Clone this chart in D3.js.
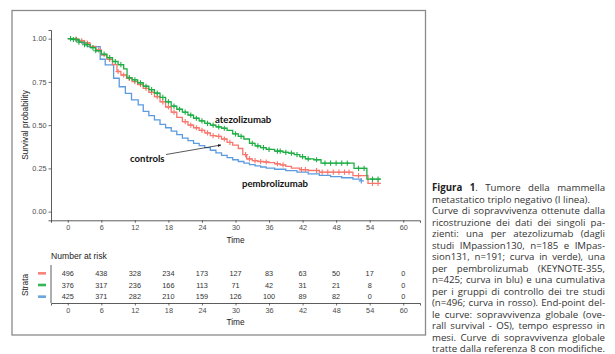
<!DOCTYPE html>
<html>
<head>
<meta charset="utf-8">
<script src="https://cdn.jsdelivr.net/npm/d3@7"></script>
<style>
  body { margin: 0; background: #fff; }
  svg { display: block; }
</style>
</head>
<body>
<div id="chart"></div>
<script>
// strata, top to bottom in the risk table
let strata = ['controls', 'atezolizumab', 'pembrolizumab']
let colors = ['#F8766D', '#1FAE45', '#5B9BE0']

// KM step points (time in months, survival)
let controlsTime = [0, 1, 2, 3, 4, 5, 6, 7, 8, 8.8, 9.5, 10.5, 11.5, 12.5, 13.5, 14.5, 15.5, 16.5, 17.5, 18.5, 19.5, 20.5, 21.5, 22.5, 23.5, 24.5, 25.5, 26.5, 27.5, 28.5, 29.5, 30.5, 31.3, 32, 33, 34, 35, 36, 37, 38, 39, 40, 41.5, 43, 45, 51, 53.7, 56]
let controlsSurv = [1, 0.997, 0.988, 0.975, 0.955, 0.935, 0.905, 0.88, 0.85, 0.81, 0.79, 0.77, 0.752, 0.735, 0.712, 0.69, 0.665, 0.635, 0.605, 0.575, 0.545, 0.52, 0.5, 0.485, 0.47, 0.455, 0.44, 0.435, 0.42, 0.4, 0.385, 0.365, 0.33, 0.305, 0.295, 0.29, 0.287, 0.283, 0.277, 0.27, 0.262, 0.252, 0.243, 0.238, 0.228, 0.208, 0.163, 0.163]
let controlsCensor = [1.5, 2.5, 3.5, 5.5, 7.5, 9, 10, 11, 12, 13, 14, 15, 16, 17, 18, 19, 21, 22, 23, 24, 25, 26, 27, 28, 29, 31.8, 32.5, 33.5, 34.5, 35.5, 37.5, 38.5, 41.8, 42.5, 44.5, 45.5, 46.5, 47.5, 48.5, 49.5, 50.3, 52, 54.5, 55.5]

let atezoTime = [0, 1, 2, 3, 4, 5, 6, 7, 8, 9, 10, 10.6, 11.5, 12.5, 13.5, 14.5, 15.5, 16.5, 17.5, 18.5, 19.5, 20.5, 21.5, 22.5, 23.5, 24.5, 25.5, 26.5, 27.5, 28.5, 29.5, 30.5, 31.5, 32.5, 33.5, 34.5, 35.5, 37, 38.5, 39.5, 40.5, 41.5, 42.5, 44, 45.3, 51.2, 53.5, 56]
let atezoSurv = [1, 0.995, 0.98, 0.965, 0.948, 0.93, 0.91, 0.89, 0.868, 0.85, 0.825, 0.775, 0.762, 0.745, 0.725, 0.705, 0.685, 0.66, 0.635, 0.61, 0.592, 0.575, 0.558, 0.54, 0.525, 0.51, 0.5, 0.49, 0.482, 0.47, 0.45, 0.435, 0.42, 0.395, 0.38, 0.37, 0.36, 0.35, 0.343, 0.338, 0.33, 0.318, 0.305, 0.3, 0.28, 0.25, 0.188, 0.188]
let atezoCensor = [0.5, 1, 1.5, 2, 3, 3.5, 4.5, 5, 6.5, 7.5, 8.5, 9.5, 11, 12, 13, 14, 15, 16, 17, 18, 19, 20, 21, 22, 23, 24, 25, 26, 27, 28, 30, 31, 33, 34, 35, 36, 37.5, 38, 39, 40, 41, 42, 43, 44.5, 46, 47, 48, 49, 50, 52, 53, 54.5, 55.5]

let pembroTime = [0, 1.5, 2.5, 3.5, 5.8, 6.7, 8.2, 9.2, 10.3, 11.4, 12.6, 13.5, 14.5, 15.5, 16.5, 17.5, 18.5, 19.5, 20.5, 21.5, 22.5, 23.5, 24.5, 25.5, 26.5, 27.5, 28.5, 29.5, 30.5, 31.5, 32.5, 33.5, 34.5, 35.5, 37, 39, 41, 43, 45, 47, 49, 51, 52.5]
let pembroSurv = [1, 0.99, 0.975, 0.954, 0.881, 0.848, 0.771, 0.722, 0.684, 0.646, 0.617, 0.58, 0.555, 0.53, 0.505, 0.485, 0.465, 0.445, 0.425, 0.41, 0.395, 0.382, 0.37, 0.355, 0.34, 0.325, 0.312, 0.3, 0.29, 0.28, 0.272, 0.265, 0.258, 0.252, 0.245, 0.237, 0.228, 0.218, 0.21, 0.203, 0.196, 0.188, 0.178]
let pembroCensor = [52.5]

let curves = [
  { time: controlsTime, surv: controlsSurv, censor: controlsCensor },
  { time: atezoTime, surv: atezoSurv, censor: atezoCensor },
  { time: pembroTime, surv: pembroSurv, censor: pembroCensor }
]

let xTicks = [0, 6, 12, 18, 24, 30, 36, 42, 48, 54, 60]
let yTicks = [0, 0.25, 0.5, 0.75, 1]

// number at risk at each x tick
let controlsRisk = [496, 438, 328, 234, 173, 127, 83, 63, 50, 17, 0]
let atezoRisk = [376, 317, 236, 166, 113, 71, 42, 31, 21, 8, 0]
let pembroRisk = [425, 371, 282, 210, 159, 126, 100, 89, 82, 0, 0]
let riskRows = [controlsRisk, atezoRisk, pembroRisk]

let captionLines = [
  'Figura 1. Tumore della mammella',
  'metastatico triplo negativo (I linea).',
  'Curve di sopravvivenza ottenute dalla',
  'ricostruzione dei dati dei singoli pa-',
  'zienti: una per atezolizumab (dagli',
  'studi IMpassion130, n=185 e IMpas-',
  'sion131, n=191; curva in verde), una',
  'per pembrolizumab (KEYNOTE-355,',
  'n=425; curva in blu) e una cumulativa',
  'per i gruppi di controllo dei tre studi',
  '(n=496; curva in rosso). End-point del-',
  'le curve: sopravvivenza globale (ove-',
  'rall survival - OS), tempo espresso in',
  'mesi. Curve di sopravvivenza globale',
  'tratte dalla referenza 8 con modifiche.'
]

let width = 615
let height = 354

let svg = d3
  .select('#chart')
  .append('svg')
  .attr('width', width)
  .attr('height', height)

let axisColor = '#333'
let font = 'Liberation Sans, Arial, sans-serif'

// frame round the figure
svg
  .append('rect')
  .attr('x', 12)
  .attr('y', 10.5)
  .attr('width', 413.5)
  .attr('height', 324.5)
  .attr('fill', 'none')
  .attr('stroke', '#8a8a8a')
  .attr('stroke-width', 1.3)

// ggplot style 5% expansion on both axes
let x = d3.scaleLinear().domain([-3, 63]).range([51, 420])
let y = d3.scaleLinear().domain([-0.05, 1.05]).range([220.3, 30])

let plot = svg.append('g')

let yAxis = plot
  .append('g')
  .attr('transform', 'translate(51,0)')
  .call(d3.axisLeft(y).tickValues(yTicks).tickFormat(d3.format('.2f')).tickSize(2.5).tickPadding(2))
let xAxis = plot
  .append('g')
  .attr('transform', 'translate(0,220.3)')
  .call(d3.axisBottom(x).tickValues(xTicks).tickSize(2.5).tickPadding(2.5))

function styleAxis(g) {
  g.select('.domain').attr('stroke', axisColor).attr('stroke-width', 0.8)
  g.selectAll('.tick line').attr('stroke', axisColor).attr('stroke-width', 0.7)
  g.selectAll('.tick text')
    .attr('fill', '#4d4d4d')
    .style('font-family', font)
    .style('font-size', '7.3px')
}
styleAxis(yAxis)
styleAxis(xAxis)

plot
  .append('text')
  .attr('transform', 'translate(25.5,125) rotate(-90)')
  .attr('text-anchor', 'middle')
  .attr('dominant-baseline', 'middle')
  .style('font-family', font)
  .style('font-size', '8.3px')
  .attr('fill', '#222')
  .text('Survival probability')

plot
  .append('text')
  .attr('x', 235.5)
  .attr('y', 243)
  .attr('text-anchor', 'middle')
  .style('font-family', font)
  .style('font-size', '8.3px')
  .attr('fill', '#222')
  .text('Time')

let line = d3
  .line()
  .x(d => x(d[0]))
  .y(d => y(d[1]))
  .curve(d3.curveStepAfter)

// draw pembro first so the others sit on top
;[2, 0, 1].forEach(i => {
  let c = curves[i]
  let pts = c.time.map((t, j) => [t, c.surv[j]])
  plot
    .append('path')
    .datum(pts)
    .attr('d', line)
    .attr('fill', 'none')
    .attr('stroke', colors[i])
    .attr('stroke-width', 1.3)

  let marks = c.censor.map(t => {
    let j = d3.bisectRight(c.time, t) - 1
    return [t, c.surv[Math.max(0, j)]]
  })
  plot
    .append('g')
    .selectAll('path')
    .data(marks)
    .enter()
    .append('path')
    .attr('transform', d => `translate(${x(d[0])},${y(d[1])})`)
    .attr('d', 'M-2.6,0H2.6M0,-2.6V2.6')
    .attr('stroke', colors[i])
    .attr('stroke-width', 1.1)
})

// annotations
let labelFont = 'Lato, Open Sans, sans-serif'
plot
  .append('text')
  .attr('x', 215)
  .attr('y', 122.5)
  .style('font-family', labelFont)
  .style('font-weight', 'bold')
  .style('font-size', '9.6px')
  .attr('fill', '#111')
  .text('atezolizumab')
plot
  .append('text')
  .attr('x', 130)
  .attr('y', 161.5)
  .style('font-family', labelFont)
  .style('font-weight', 'bold')
  .style('font-size', '9.6px')
  .attr('fill', '#111')
  .text('controls')
plot
  .append('text')
  .attr('x', 242)
  .attr('y', 186.5)
  .style('font-family', labelFont)
  .style('font-weight', 'bold')
  .style('font-size', '9.6px')
  .attr('fill', '#111')
  .text('pembrolizumab')

svg
  .append('defs')
  .append('marker')
  .attr('id', 'arrow')
  .attr('viewBox', '0 0 10 10')
  .attr('refX', 9)
  .attr('refY', 5)
  .attr('markerWidth', 5)
  .attr('markerHeight', 5)
  .attr('orient', 'auto')
  .append('path')
  .attr('d', 'M0,1L10,5L0,9Z')
  .attr('fill', '#111')

plot
  .append('line')
  .attr('x1', 166)
  .attr('y1', 154.5)
  .attr('x2', 221)
  .attr('y2', 145)
  .attr('stroke', '#111')
  .attr('stroke-width', 0.7)
  .attr('marker-end', 'url(#arrow)')

// risk table
let table = svg.append('g')
let rowY = d3.scaleBand().domain(strata).range([267.5, 302.5])

table
  .append('text')
  .attr('x', 51)
  .attr('y', 259)
  .style('font-family', font)
  .style('font-size', '8.6px')
  .attr('fill', '#222')
  .text('Number at risk')

table
  .append('line')
  .attr('x1', 51)
  .attr('x2', 51)
  .attr('y1', 265)
  .attr('y2', 303)
  .attr('stroke', axisColor)
  .attr('stroke-width', 0.8)

let tAxis = table
  .append('g')
  .attr('transform', 'translate(0,303)')
  .call(d3.axisBottom(x).tickValues(xTicks).tickSize(2.5).tickPadding(2.5))
styleAxis(tAxis)

table
  .append('text')
  .attr('x', 235.5)
  .attr('y', 325)
  .attr('text-anchor', 'middle')
  .style('font-family', font)
  .style('font-size', '8.3px')
  .attr('fill', '#222')
  .text('Time')

table
  .append('text')
  .attr('transform', 'translate(25.5,285) rotate(-90)')
  .attr('text-anchor', 'middle')
  .attr('dominant-baseline', 'middle')
  .style('font-family', font)
  .style('font-size', '8.3px')
  .attr('fill', '#222')
  .text('Strata')

strata.forEach((s, i) => {
  let cy = rowY(s) + rowY.bandwidth() / 2
  table
    .append('line')
    .attr('x1', 38)
    .attr('x2', 46)
    .attr('y1', cy)
    .attr('y2', cy)
    .attr('stroke', colors[i])
    .attr('stroke-width', 2.6)
    .attr('opacity', 0.9)
  table
    .append('g')
    .selectAll('text')
    .data(riskRows[i])
    .enter()
    .append('text')
    .attr('x', (d, j) => x(xTicks[j]))
    .attr('y', cy)
    .attr('text-anchor', 'middle')
    .attr('dominant-baseline', 'central')
    .style('font-family', font)
    .style('font-size', '7.3px')
    .attr('fill', '#333')
    .text(d => d)
})

// caption, justified to the block width
let capLeft = 432
let capRight = 605
let cap = svg
  .append('g')
  .style('font-family', 'Open Sans, sans-serif')
  .style('font-size', '10px')
  .attr('fill', '#333')

// size the font so the unjustified second line ends where it does in the picture
let probe = cap.append('text').text(captionLines[1])
let capSize = (10 * 158) / probe.node().getComputedTextLength()
probe.remove()
cap.style('font-size', capSize + 'px')

captionLines.forEach((txt, i) => {
  let t = cap
    .append('text')
    .attr('x', capLeft)
    .attr('y', 191 + i * 11.5)
  if (i === 0) {
    t.append('tspan').style('font-weight', 'bold').attr('fill', '#222').text('Figura 1')
    t.append('tspan').text(txt.slice(8))
  } else {
    t.text(txt)
  }
  if (i === 1) {
    t.attr('textLength', 158).attr('lengthAdjust', 'spacing')
  } else {
    let len = t.node().getComputedTextLength()
    let spaces = txt.split(' ').length - 1
    if (spaces > 0) t.attr('word-spacing', (capRight - capLeft - len) / spaces)
  }
})
</script>
</body>
</html>
